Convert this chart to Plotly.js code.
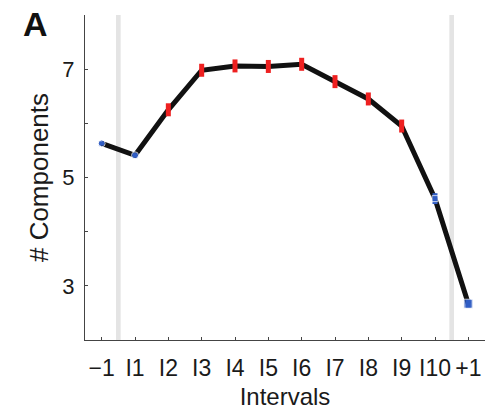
<!DOCTYPE html>
<html>
<head>
<meta charset="utf-8">
<script src="https://cdn.plot.ly/plotly-3.0.1.min.js"></script>
<style>html,body{margin:0;padding:0;background:#fff;}#chart{width:500px;height:420px;}</style>
</head>
<body>
<div id="chart"></div>
<script>
const categories = ["\u22121","I1","I2","I3","I4","I5","I6","I7","I8","I9","I10","+1"];
const components = [5.63, 5.41, 6.25, 6.98, 7.06, 7.05, 7.09, 6.77, 6.45, 5.95, 4.61, 2.67];
const errors = [0.03, 0.04, 0.12, 0.12, 0.12, 0.12, 0.12, 0.12, 0.12, 0.12, 0.10, 0.08];
const redIdx = [2,3,4,5,6,7,8,9];
const blueIdx = [0,1,10,11];
const yTickVals = [2,3,4,5,6,7,8];
const yTickText = ["","3","","5","","7",""];

const pick = (arr, idx) => idx.map(i => arr[i]);
const font = "Liberation Sans, Arial, Helvetica, sans-serif";

const traces = [
  {x: categories, y: components, mode: "lines", line: {color: "#111", width: 5}, hoverinfo: "skip", showlegend: false},
  {x: pick(categories, redIdx), y: pick(components, redIdx), mode: "markers",
   marker: {size: 1, color: "#ee2020"},
   error_y: {type: "data", array: pick(errors, redIdx), color: "#ee2020", thickness: 5, width: 0},
   showlegend: false},
  {x: pick(categories, blueIdx), y: pick(components, blueIdx), mode: "markers",
   marker: {size: [7, 7, 6, 9], symbol: ["circle","circle","square","square"], color: "#2f5cc4"},
   error_y: {type: "data", array: pick(errors, blueIdx), color: "#2f5cc4", thickness: 5, width: 0},
   showlegend: false}
];

const layout = {
  width: 500, height: 420,
  margin: {l: 85, r: 15, t: 15, b: 80},
  paper_bgcolor: "#fff", plot_bgcolor: "#fff",
  font: {family: font, color: "#1a1a1a"},
  xaxis: {
    type: "category", range: [-0.5, 11.5], showgrid: false, zeroline: false,
    showline: true, linecolor: "#444", linewidth: 1,
    ticks: "inside", ticklen: 3, tickcolor: "#444",
    tickfont: {size: 23, family: font, color: "#1a1a1a"},
    ticklabelstandoff: 7,
    title: {text: "Intervals", font: {size: 24, family: font, color: "#1a1a1a"}, standoff: 8}
  },
  yaxis: {
    range: [2, 8], showgrid: false, zeroline: false,
    showline: true, linecolor: "#444", linewidth: 1,
    ticks: "inside", ticklen: 3, tickcolor: "#444",
    tickvals: yTickVals, ticktext: yTickText,
    tickfont: {size: 22, family: font, color: "#1a1a1a"},
    ticklabelstandoff: 5,
    title: {text: "# Components", font: {size: 26, family: font, color: "#1a1a1a"}, standoff: 6}
  },
  shapes: [
    {type: "rect", xref: "x", yref: "paper", x0: 0.43, x1: 0.57, y0: 0, y1: 1, fillcolor: "#e4e4e4", line: {width: 0}, layer: "below"},
    {type: "rect", xref: "x", yref: "paper", x0: 10.43, x1: 10.57, y0: 0, y1: 1, fillcolor: "#e4e4e4", line: {width: 0}, layer: "below"}
  ],
  annotations: [
    {text: "<b>A</b>", xref: "paper", yref: "paper", x: -0.16, y: 0.972, xanchor: "left", yanchor: "middle", showarrow: false,
     font: {size: 34, family: font, color: "#111"}}
  ]
};

Plotly.newPlot("chart", traces, layout, {displayModeBar: false, staticPlot: true});
</script>
</body>
</html>
